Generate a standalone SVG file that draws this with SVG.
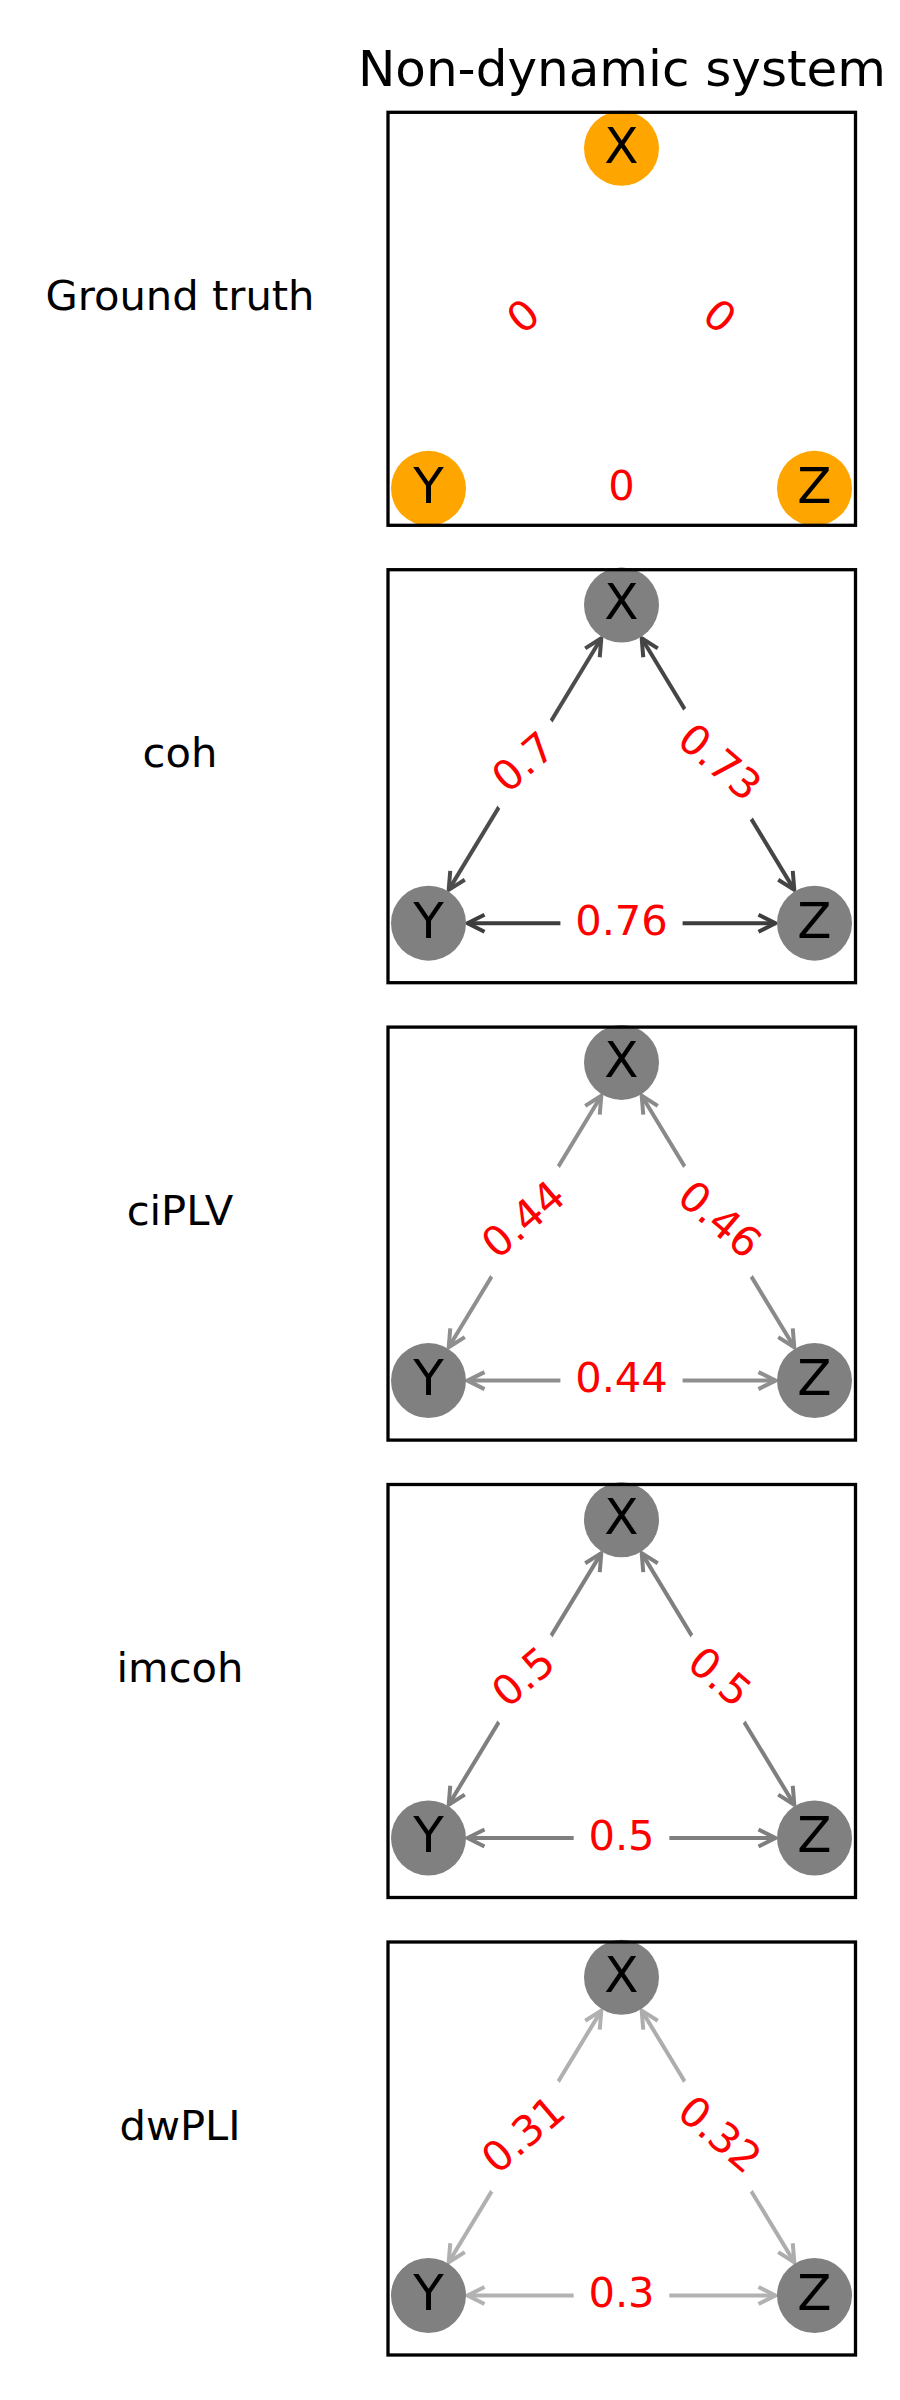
<svg xmlns="http://www.w3.org/2000/svg" width="900" height="2400" viewBox="0 0 900 2400">
<style>
.frame{fill:none;stroke:#000;stroke-width:3.3}
.gt circle{fill:#ffa500}
.nd circle{fill:#808080}
.nlab{font-family:"DejaVu Sans","Liberation Sans",sans-serif;font-size:50px;text-anchor:middle;fill:#000}
.elab{font-family:"DejaVu Sans","Liberation Sans",sans-serif;font-size:41.67px;text-anchor:middle;fill:#ff0000}
.row{font-family:"DejaVu Sans","Liberation Sans",sans-serif;font-size:41.67px;text-anchor:middle;fill:#000}
.title{font-family:"DejaVu Sans","Liberation Sans",sans-serif;font-size:50px;text-anchor:middle;fill:#000}
.bb{fill:#fff}
.edge{fill:none;stroke-width:4}
.ah{fill:none;stroke-width:4;stroke-linejoin:round;stroke-linecap:butt}
</style>
<defs>
<marker id="a4c" markerUnits="userSpaceOnUse" markerWidth="24" markerHeight="24" refX="0" refY="0" orient="auto-start-reverse" overflow="visible"><path class="ah" stroke="#4c4c4c" d="M-17,-8.5L0,0L-17,8.5"/></marker>
<marker id="a45" markerUnits="userSpaceOnUse" markerWidth="24" markerHeight="24" refX="0" refY="0" orient="auto-start-reverse" overflow="visible"><path class="ah" stroke="#454545" d="M-17,-8.5L0,0L-17,8.5"/></marker>
<marker id="a3d" markerUnits="userSpaceOnUse" markerWidth="24" markerHeight="24" refX="0" refY="0" orient="auto-start-reverse" overflow="visible"><path class="ah" stroke="#3d3d3d" d="M-17,-8.5L0,0L-17,8.5"/></marker>
<marker id="a8f" markerUnits="userSpaceOnUse" markerWidth="24" markerHeight="24" refX="0" refY="0" orient="auto-start-reverse" overflow="visible"><path class="ah" stroke="#8f8f8f" d="M-17,-8.5L0,0L-17,8.5"/></marker>
<marker id="a8a" markerUnits="userSpaceOnUse" markerWidth="24" markerHeight="24" refX="0" refY="0" orient="auto-start-reverse" overflow="visible"><path class="ah" stroke="#8a8a8a" d="M-17,-8.5L0,0L-17,8.5"/></marker>
<marker id="a7f" markerUnits="userSpaceOnUse" markerWidth="24" markerHeight="24" refX="0" refY="0" orient="auto-start-reverse" overflow="visible"><path class="ah" stroke="#7f7f7f" d="M-17,-8.5L0,0L-17,8.5"/></marker>
<marker id="ab0" markerUnits="userSpaceOnUse" markerWidth="24" markerHeight="24" refX="0" refY="0" orient="auto-start-reverse" overflow="visible"><path class="ah" stroke="#b0b0b0" d="M-17,-8.5L0,0L-17,8.5"/></marker>
<marker id="aad" markerUnits="userSpaceOnUse" markerWidth="24" markerHeight="24" refX="0" refY="0" orient="auto-start-reverse" overflow="visible"><path class="ah" stroke="#adadad" d="M-17,-8.5L0,0L-17,8.5"/></marker>
<marker id="ab2" markerUnits="userSpaceOnUse" markerWidth="24" markerHeight="24" refX="0" refY="0" orient="auto-start-reverse" overflow="visible"><path class="ah" stroke="#b2b2b2" d="M-17,-8.5L0,0L-17,8.5"/></marker>
</defs>
<rect x="0" y="0" width="900" height="2400" fill="#fff"/>
<text class="title" x="622" y="86">Non-dynamic system</text>

<!-- Panel 1: Ground truth -->
<g id="panel-ground-truth" transform="translate(0,112.3)">
<text class="row" x="180" y="197.6">Ground truth</text>
<g id="gt-connectors">
<text class="elab" transform="translate(525,206) rotate(-40.5)" y="11.7">0</text>
<text class="elab" transform="translate(718,206) rotate(40.5)" y="11.7">0</text>
<text class="elab" transform="translate(621.5,376)" y="11.7">0</text>
</g>
<g id="gt-X" class="gt"><circle cx="621.5" cy="36" r="37.5"/><text class="nlab" x="621.5" y="50.4">X</text></g>
<g id="gt-Y" class="gt"><circle cx="428.5" cy="376" r="37.5"/><text class="nlab" x="428.5" y="390.4">Y</text></g>
<g id="gt-Z" class="gt"><circle cx="814.5" cy="376" r="37.5"/><text class="nlab" x="814.5" y="390.4">Z</text></g>
<rect class="frame" x="388" y="0" width="467.5" height="413"/>
</g>

<!-- Panel 2: coh -->
<g id="panel-coh" transform="translate(0,569.7)">
<text class="row" x="180" y="197.6">coh</text>
<g id="coh-connectors">
<line class="edge" stroke="#4c4c4c" x1="448.7" y1="320.2" x2="601.3" y2="68.6" marker-start="url(#a4c)" marker-end="url(#a4c)"/>
<line class="edge" stroke="#454545" x1="641.7" y1="68.6" x2="794.3" y2="320.2" marker-start="url(#a45)" marker-end="url(#a45)"/>
<line class="edge" stroke="#3d3d3d" x1="467.5" y1="353.5" x2="775.5" y2="353.5" marker-start="url(#a3d)" marker-end="url(#a3d)"/>
<g transform="translate(525,194.4) rotate(-40.5)"><rect class="bb" x="-47.85" y="-30" width="95.7" height="60" rx="10"/><text class="elab" y="11.7">0.7</text></g>
<g transform="translate(718,194.4) rotate(40.5)"><rect class="bb" x="-61.1" y="-30" width="122.2" height="60" rx="10"/><text class="elab" y="11.7">0.73</text></g>
<g transform="translate(621.5,353.5)"><rect class="bb" x="-61.1" y="-30" width="122.2" height="60" rx="10"/><text class="elab" y="11.7">0.76</text></g>
</g>
<g id="coh-X" class="nd"><circle cx="621.5" cy="35.3" r="37.5"/><text class="nlab" x="621.5" y="49.7">X</text></g>
<g id="coh-Y" class="nd"><circle cx="428.5" cy="353.5" r="37.5"/><text class="nlab" x="428.5" y="367.9">Y</text></g>
<g id="coh-Z" class="nd"><circle cx="814.5" cy="353.5" r="37.5"/><text class="nlab" x="814.5" y="367.9">Z</text></g>
<rect class="frame" x="388" y="0" width="467.5" height="413"/>
</g>

<!-- Panel 3: ciPLV -->
<g id="panel-ciPLV" transform="translate(0,1027.1)">
<text class="row" x="180" y="197.6">ciPLV</text>
<g id="ciPLV-connectors">
<line class="edge" stroke="#8f8f8f" x1="448.7" y1="320.2" x2="601.3" y2="68.6" marker-start="url(#a8f)" marker-end="url(#a8f)"/>
<line class="edge" stroke="#8a8a8a" x1="641.7" y1="68.6" x2="794.3" y2="320.2" marker-start="url(#a8a)" marker-end="url(#a8a)"/>
<line class="edge" stroke="#8f8f8f" x1="467.5" y1="353.5" x2="775.5" y2="353.5" marker-start="url(#a8f)" marker-end="url(#a8f)"/>
<g transform="translate(525,194.4) rotate(-40.5)"><rect class="bb" x="-61.1" y="-30" width="122.2" height="60" rx="10"/><text class="elab" y="11.7">0.44</text></g>
<g transform="translate(718,194.4) rotate(40.5)"><rect class="bb" x="-61.1" y="-30" width="122.2" height="60" rx="10"/><text class="elab" y="11.7">0.46</text></g>
<g transform="translate(621.5,353.5)"><rect class="bb" x="-61.1" y="-30" width="122.2" height="60" rx="10"/><text class="elab" y="11.7">0.44</text></g>
</g>
<g id="ciPLV-X" class="nd"><circle cx="621.5" cy="35.3" r="37.5"/><text class="nlab" x="621.5" y="49.7">X</text></g>
<g id="ciPLV-Y" class="nd"><circle cx="428.5" cy="353.5" r="37.5"/><text class="nlab" x="428.5" y="367.9">Y</text></g>
<g id="ciPLV-Z" class="nd"><circle cx="814.5" cy="353.5" r="37.5"/><text class="nlab" x="814.5" y="367.9">Z</text></g>
<rect class="frame" x="388" y="0" width="467.5" height="413"/>
</g>

<!-- Panel 4: imcoh -->
<g id="panel-imcoh" transform="translate(0,1484.5)">
<text class="row" x="180" y="197.6">imcoh</text>
<g id="imcoh-connectors">
<line class="edge" stroke="#7f7f7f" x1="448.7" y1="320.2" x2="601.3" y2="68.6" marker-start="url(#a7f)" marker-end="url(#a7f)"/>
<line class="edge" stroke="#7f7f7f" x1="641.7" y1="68.6" x2="794.3" y2="320.2" marker-start="url(#a7f)" marker-end="url(#a7f)"/>
<line class="edge" stroke="#7f7f7f" x1="467.5" y1="353.5" x2="775.5" y2="353.5" marker-start="url(#a7f)" marker-end="url(#a7f)"/>
<g transform="translate(525,194.4) rotate(-40.5)"><rect class="bb" x="-47.85" y="-30" width="95.7" height="60" rx="10"/><text class="elab" y="11.7">0.5</text></g>
<g transform="translate(718,194.4) rotate(40.5)"><rect class="bb" x="-47.85" y="-30" width="95.7" height="60" rx="10"/><text class="elab" y="11.7">0.5</text></g>
<g transform="translate(621.5,353.5)"><rect class="bb" x="-47.85" y="-30" width="95.7" height="60" rx="10"/><text class="elab" y="11.7">0.5</text></g>
</g>
<g id="imcoh-X" class="nd"><circle cx="621.5" cy="35.3" r="37.5"/><text class="nlab" x="621.5" y="49.7">X</text></g>
<g id="imcoh-Y" class="nd"><circle cx="428.5" cy="353.5" r="37.5"/><text class="nlab" x="428.5" y="367.9">Y</text></g>
<g id="imcoh-Z" class="nd"><circle cx="814.5" cy="353.5" r="37.5"/><text class="nlab" x="814.5" y="367.9">Z</text></g>
<rect class="frame" x="388" y="0" width="467.5" height="413"/>
</g>

<!-- Panel 5: dwPLI -->
<g id="panel-dwPLI" transform="translate(0,1942)">
<text class="row" x="180" y="197.6">dwPLI</text>
<g id="dwPLI-connectors">
<line class="edge" stroke="#b0b0b0" x1="448.7" y1="320.2" x2="601.3" y2="68.6" marker-start="url(#ab0)" marker-end="url(#ab0)"/>
<line class="edge" stroke="#adadad" x1="641.7" y1="68.6" x2="794.3" y2="320.2" marker-start="url(#aad)" marker-end="url(#aad)"/>
<line class="edge" stroke="#b2b2b2" x1="467.5" y1="353.5" x2="775.5" y2="353.5" marker-start="url(#ab2)" marker-end="url(#ab2)"/>
<g transform="translate(525,194.4) rotate(-40.5)"><rect class="bb" x="-61.1" y="-30" width="122.2" height="60" rx="10"/><text class="elab" y="11.7">0.31</text></g>
<g transform="translate(718,194.4) rotate(40.5)"><rect class="bb" x="-61.1" y="-30" width="122.2" height="60" rx="10"/><text class="elab" y="11.7">0.32</text></g>
<g transform="translate(621.5,353.5)"><rect class="bb" x="-47.85" y="-30" width="95.7" height="60" rx="10"/><text class="elab" y="11.7">0.3</text></g>
</g>
<g id="dwPLI-X" class="nd"><circle cx="621.5" cy="35.3" r="37.5"/><text class="nlab" x="621.5" y="49.7">X</text></g>
<g id="dwPLI-Y" class="nd"><circle cx="428.5" cy="353.5" r="37.5"/><text class="nlab" x="428.5" y="367.9">Y</text></g>
<g id="dwPLI-Z" class="nd"><circle cx="814.5" cy="353.5" r="37.5"/><text class="nlab" x="814.5" y="367.9">Z</text></g>
<rect class="frame" x="388" y="0" width="467.5" height="413"/>
</g>
</svg>
